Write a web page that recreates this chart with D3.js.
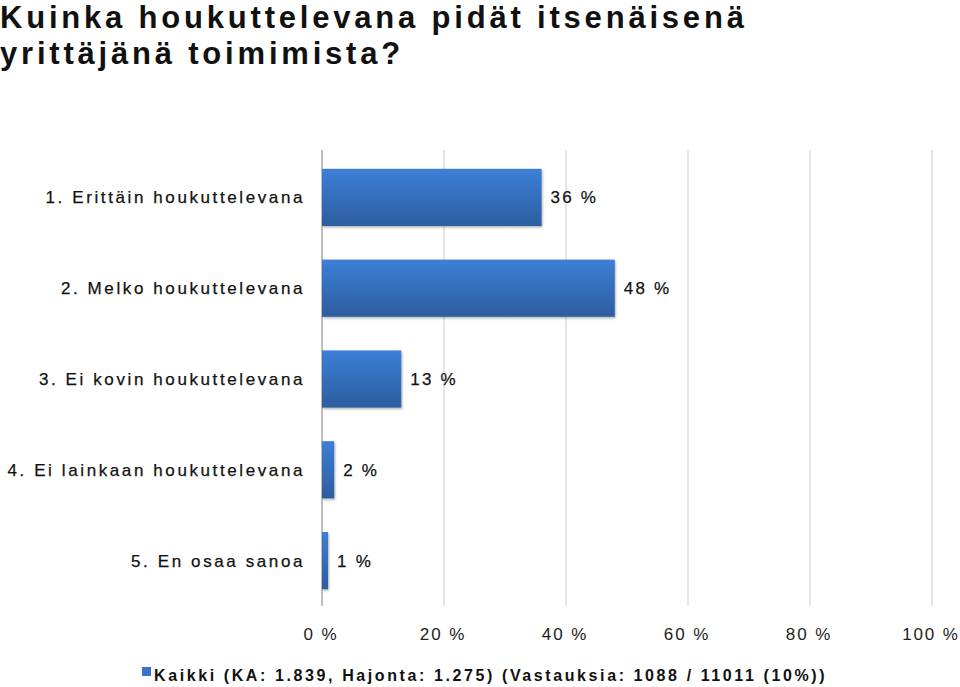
<!DOCTYPE html>
<html><head><meta charset="utf-8">
<script src="https://cdn.jsdelivr.net/npm/d3@7"></script>
<style>body{margin:0;background:#fff}svg{display:block}</style>
</head><body>
<svg id="c" width="960" height="687"></svg>
<script>
const categories = ["1. Erittäin houkuttelevana","2. Melko houkuttelevana","3. Ei kovin houkuttelevana","4. Ei lainkaan houkuttelevana","5. En osaa sanoa"];
const values = [36, 48, 13, 2, 1];
const valueLabels = ["36 %","48 %","13 %","2 %","1 %"];
const ticks = [0,20,40,60,80,100];
const titleLines = ["Kuinka houkuttelevana pidät itsenäisenä","yrittäjänä toimimista?"];
const legendText = "Kaikki (KA: 1.839, Hajonta: 1.275) (Vastauksia: 1088 / 11011 (10%))";

const svg = d3.select("#c");
const font = "'Liberation Sans', Arial, Helvetica, sans-serif";
const x = d3.scaleLinear().domain([0,100]).range([322,932]);
const y = d3.scaleBand().domain(categories).range([152,606]).paddingInner(0.37).paddingOuter(0.185);

const defs = svg.append("defs");
const g = defs.append("linearGradient").attr("id","bg").attr("x1",0).attr("y1",0).attr("x2",0).attr("y2",1);
g.append("stop").attr("offset","0%").attr("stop-color","#3d7fd6");
g.append("stop").attr("offset","100%").attr("stop-color","#2c5d9f");
const f = defs.append("filter").attr("id","sh").attr("x","-10%").attr("y","-10%").attr("width","130%").attr("height","130%");
f.append("feDropShadow").attr("dx",1).attr("dy",1.5).attr("stdDeviation",1).attr("flood-color","#000").attr("flood-opacity",0.3);

// title
svg.append("g").selectAll("text").data(titleLines).join("text")
  .attr("x",0).attr("y",(d,i)=>28+i*36)
  .attr("font-family",font).attr("font-weight","bold").attr("font-size",31)
  .attr("letter-spacing",3.8).attr("fill","#111").text(d=>d);

// gridlines
svg.append("g").selectAll("line").data(ticks).join("line")
  .attr("x1",d=>x(d)).attr("x2",d=>x(d)).attr("y1",150).attr("y2",606)
  .attr("stroke",d=>d===0?"#a8a8a8":"#d6d6d6").attr("stroke-width",d=>d===0?1.5:1.2);

// bars
svg.append("g").selectAll("rect").data(values).join("rect")
  .attr("x",x(0)).attr("y",(d,i)=>y(categories[i]))
  .attr("width",d=>x(d)-x(0)).attr("height",y.bandwidth())
  .attr("fill","url(#bg)").attr("filter","url(#sh)");

// category labels
svg.append("g").selectAll("text").data(categories).join("text")
  .attr("x",305).attr("y",d=>y(d)+y.bandwidth()/2+6)
  .attr("text-anchor","end").attr("font-family",font).attr("font-size",17)
  .attr("letter-spacing",2.6).attr("fill","#111").attr("stroke","#111").attr("stroke-width",0.25)
  .text(d=>d);

// value labels
svg.append("g").selectAll("text").data(values).join("text")
  .attr("x",d=>x(d)+9).attr("y",(d,i)=>y(categories[i])+y.bandwidth()/2+6)
  .attr("font-family",font).attr("font-size",17).attr("letter-spacing",2.2)
  .attr("fill","#111").attr("stroke","#111").attr("stroke-width",0.25)
  .text((d,i)=>valueLabels[i]);

// tick labels
svg.append("g").selectAll("text").data(ticks).join("text")
  .attr("x",d=>x(d)).attr("dx",-1).attr("y",640).attr("text-anchor","middle")
  .attr("font-family",font).attr("font-size",17).attr("letter-spacing",1.9)
  .attr("fill","#222").text(d=>d+" %");

// legend
svg.append("rect").attr("x",142).attr("y",667).attr("width",9).attr("height",9).attr("fill","#3a74c4");
svg.append("text").attr("x",154).attr("y",681).attr("font-family",font).attr("font-weight","bold")
  .attr("font-size",16).attr("letter-spacing",2.6).attr("fill","#111").text(legendText);
</script>
</body></html>
